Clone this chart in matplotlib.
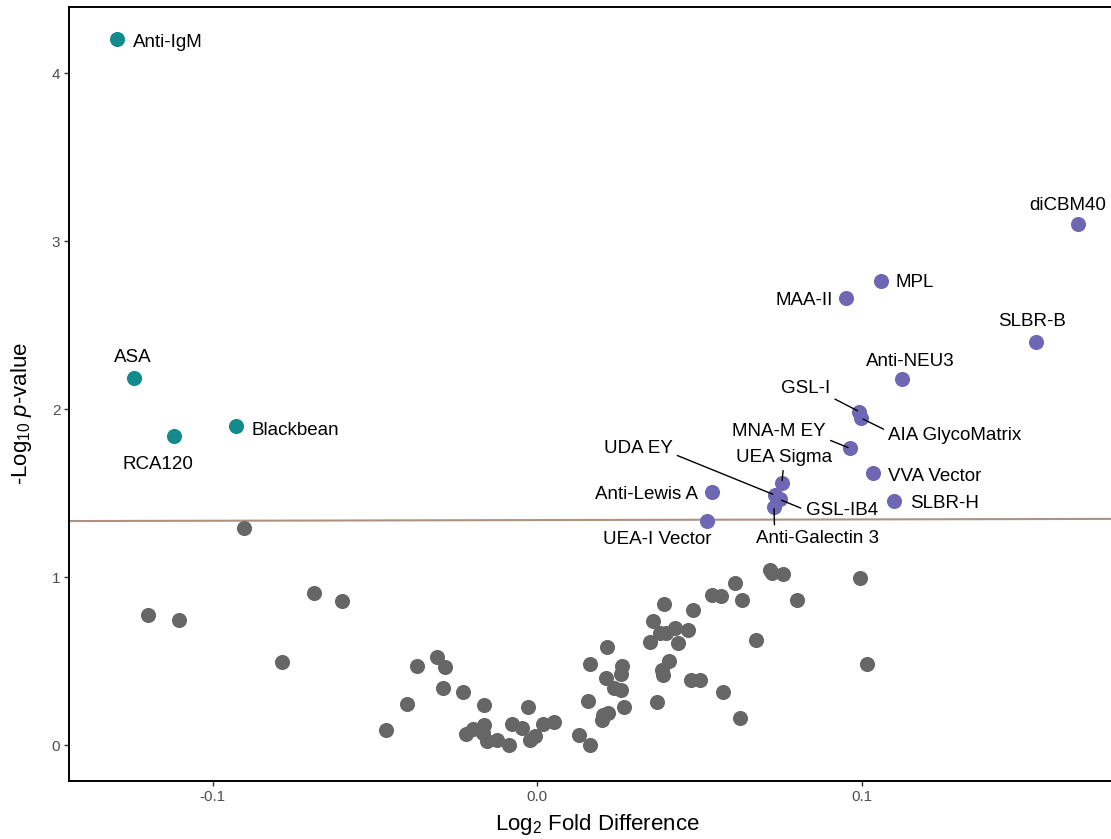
import matplotlib
matplotlib.use("Agg")
import matplotlib.pyplot as plt

plt.rcParams["font.family"] = ["Liberation Sans", "DejaVu Sans"]
plt.rcParams["mathtext.fontset"] = "custom"
plt.rcParams["mathtext.rm"] = "Liberation Sans"
plt.rcParams["mathtext.it"] = "Liberation Sans:italic"
plt.rcParams["axes.unicode_minus"] = False

# lectins enriched in the reference group (negative fold difference)
down_names = ["Anti-IgM", "ASA", "RCA120", "Blackbean"]
down_lfc = [-0.1295, -0.1243, -0.1120, -0.0929]
down_logp = [4.205, 2.190, 1.843, 1.902]

# lectins enriched in the test group (positive fold difference)
up_names = ["diCBM40", "MPL", "MAA-II", "SLBR-B", "Anti-NEU3", "GSL-I",
            "AIA GlycoMatrix", "MNA-M EY", "UEA Sigma", "UDA EY",
            "Anti-Lewis A", "GSL-IB4", "UEA-I Vector", "Anti-Galectin 3",
            "VVA Vector", "SLBR-H"]
up_lfc = [0.1668, 0.1060, 0.0953, 0.1537, 0.1126, 0.0993,
          0.0999, 0.0964, 0.0754, 0.0732,
          0.0538, 0.0747, 0.0523, 0.0730,
          0.1035, 0.1099]
up_logp = [3.106, 2.765, 2.665, 2.402, 2.180, 1.987,
           1.948, 1.769, 1.564, 1.491,
           1.511, 1.465, 1.338, 1.422,
           1.624, 1.455]

# non-significant lectins
ns_lfc = [-0.1200, -0.1103, -0.0905, -0.0785, -0.0688, -0.0602, -0.0465,
          -0.0401, -0.0369, -0.0309, -0.0284, -0.0291, -0.0228, -0.0164,
          -0.0028, -0.0220, -0.0199, -0.0164, -0.0168, -0.0156, -0.0125,
          -0.0087, -0.0079, -0.0048, -0.0022, -0.0007, 0.0018, 0.0052,
          0.0129, 0.0163, 0.0157, 0.0164, 0.0215, 0.0212, 0.0236, 0.0259,
          0.0263, 0.0258, 0.0268, 0.0203, 0.0217, 0.0201, 0.0370, 0.0385,
          0.0389, 0.0406, 0.0347, 0.0357, 0.0378, 0.0397, 0.0426, 0.0434,
          0.0464, 0.0392, 0.0479, 0.0475, 0.0503, 0.0539, 0.0567, 0.0610,
          0.0632, 0.0719, 0.0725, 0.0757, 0.0802, 0.0994, 0.1018, 0.0675,
          0.0574, 0.0625]
ns_logp = [0.775, 0.745, 1.296, 0.499, 0.906, 0.862, 0.092,
           0.247, 0.475, 0.529, 0.469, 0.342, 0.320, 0.243,
           0.227, 0.068, 0.096, 0.122, 0.073, 0.025, 0.035,
           0.003, 0.130, 0.107, 0.035, 0.058, 0.126, 0.140,
           0.064, 0.002, 0.263, 0.486, 0.585, 0.399, 0.344, 0.332,
           0.476, 0.423, 0.227, 0.182, 0.192, 0.152, 0.259, 0.449,
           0.420, 0.501, 0.614, 0.743, 0.668, 0.672, 0.700, 0.608,
           0.688, 0.842, 0.804, 0.388, 0.392, 0.898, 0.888, 0.967,
           0.866, 1.046, 1.028, 1.020, 0.866, 0.999, 0.483, 0.630,
           0.320, 0.165]

# significance cut-off line
cut_lfc = [-0.1442, 0.1815]
cut_logp = [1.336, 1.349]

x_ticks = [-0.1, 0.0, 0.1]
y_ticks = [0, 1, 2, 3, 4]

# label placement: offset in pixels from the point, alignment, leader relpos
label_style = {
    "Anti-IgM": ((16, -8), "left", None),
    "ASA": ((-1, 16), "center", None),
    "RCA120": ((-16, -33), "center", None),
    "Blackbean": ((16, -9), "left", None),
    "diCBM40": ((-11, 14), "center", None),
    "MPL": ((14, -6), "left", None),
    "MAA-II": ((-13, -7), "right", None),
    "SLBR-B": ((-4, 16), "center", None),
    "Anti-NEU3": ((8, 13), "center", None),
    "GSL-I": ((-29, 19), "right", (1.0, 0.0)),
    "AIA GlycoMatrix": ((27, -22), "left", (0.0, 0.75)),
    "MNA-M EY": ((-24, 12), "right", (1.0, 0.1)),
    "UEA Sigma": ((2, 21), "center", (0.5, 0.05)),
    "UDA EY": ((-102, 42), "right", (1.0, 0.2)),
    "Anti-Lewis A": ((-14, -7), "right", None),
    "GSL-IB4": ((26, -16), "left", (0.0, 0.55)),
    "UEA-I Vector": ((-50, -23), "center", None),
    "Anti-Galectin 3": ((44, -36), "center", (0.147, 1.0)),
    "VVA Vector": ((15, -8), "left", None),
    "SLBR-H": ((16, -7), "left", None),
}

fig = plt.figure(figsize=(11.11, 8.39), dpi=100)
ax = fig.add_axes([0.0624, 0.0695, 0.9511, 0.9218])

ax.plot(cut_lfc, cut_logp, color="#ad9282", linewidth=1.5, zorder=1)

pt = 118
ax.scatter(ns_lfc, ns_logp, s=pt, color="#666666", linewidths=0, zorder=2)
ax.scatter(down_lfc, down_logp, s=pt, color="#138a8b", linewidths=0, zorder=2)
ax.scatter(up_lfc, up_logp, s=pt, color="#6e67b3", linewidths=0, zorder=2)

names = down_names + up_names
xs = down_lfc + up_lfc
ys = down_logp + up_logp
for name, x, y in zip(names, xs, ys):
    offset, ha, relpos = label_style[name]
    kw = {}
    if relpos is not None:
        kw["arrowprops"] = dict(arrowstyle="-", color="black", lw=1.0,
                                relpos=relpos, shrinkA=1.5, shrinkB=1.5)
    ax.annotate(name, xy=(x, y), xytext=offset, textcoords="offset pixels",
                ha=ha, va="baseline", fontsize=13.5, color="black",
                zorder=3, **kw)

ax.set_xlim(cut_lfc[0], cut_lfc[1])
ax.set_ylim(-0.2095, 4.394)
ax.set_xticks(x_ticks)
ax.set_xticklabels([f"{t:.1f}" for t in x_ticks])
ax.set_yticks(y_ticks)
ax.tick_params(axis="both", labelsize=11, labelcolor="#4d4d4d",
               color="#333333", length=3.5, width=1.0, pad=3)

for side in ["left", "bottom", "top"]:
    ax.spines[side].set_linewidth(1.4)
    ax.spines[side].set_color("black")
ax.spines["right"].set_visible(False)

ax.set_xlabel(r"Log$_2$ Fold Difference", fontsize=16, labelpad=6)
ax.set_ylabel(r"-Log$_{10}$ $\it{p}$-value", fontsize=16)
ax.yaxis.set_label_coords(-0.033, 0.475)

fig.savefig("out.png", dpi=100)
